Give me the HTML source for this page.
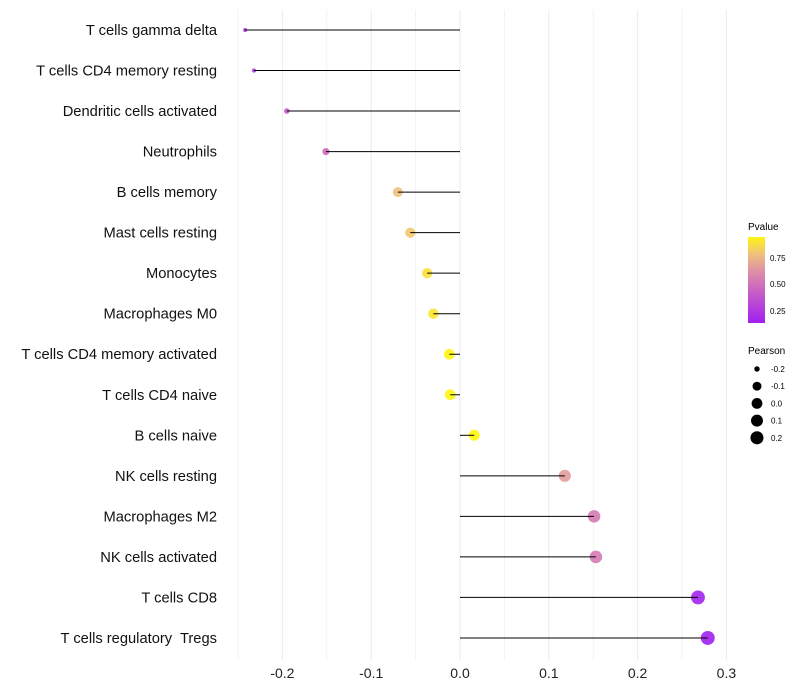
<!DOCTYPE html>
<html><head><meta charset="utf-8"><style>
body{margin:0;background:#fff;font-family:"Liberation Sans",sans-serif}
</style></head><body>
<svg id="c" width="800" height="700" style="position:absolute;left:0;top:0">
<defs><linearGradient id="pg" x1="0" y1="1" x2="0" y2="0">
<stop offset="0" stop-color="#A020F0"/><stop offset="0.35" stop-color="#C75CC8"/><stop offset="0.6" stop-color="#DE8FA6"/><stop offset="0.8" stop-color="#F0C07E"/><stop offset="1" stop-color="#FFF510"/></linearGradient></defs>
<g id="grid"></g><g id="pts"></g><g id="marks"></g><g id="labels"></g>
<text x="748" y="230" font-size="10">Pvalue</text>
<rect x="748" y="237" width="17" height="86" fill="url(#pg)"/>
<g font-size="8">
<text x="770" y="261">0.75</text>
<text x="770" y="287">0.50</text>
<text x="770" y="314">0.25</text>
</g>
<text x="748" y="354" font-size="10">Pearson</text>
<g id="sizeleg" font-size="8"></g>
</svg>
<script>
const categories=["T cells gamma delta","T cells CD4 memory resting","Dendritic cells activated","Neutrophils","B cells memory","Mast cells resting","Monocytes","Macrophages M0","T cells CD4 memory activated","T cells CD4 naive","B cells naive","NK cells resting","Macrophages M2","NK cells activated","T cells CD8","T cells regulatory  Tregs"];
const pearson=[-0.242,-0.232,-0.195,-0.151,-0.070,-0.056,-0.037,-0.030,-0.012,-0.011,0.016,0.118,0.151,0.153,0.268,0.279];
const pvalue=[0.2,0.22,0.33,0.4,0.75,0.78,0.87,0.89,0.95,0.95,0.95,0.58,0.45,0.45,0.15,0.14];
const xTicks=[-0.2,-0.1,0.0,0.1,0.2,0.3];
const xTickLabels=["-0.2","-0.1","0.0","0.1","0.2","0.3"];
const sizeLegend=[-0.2,-0.1,0.0,0.1,0.2];
const NS="http://www.w3.org/2000/svg";
const x=v=>460+v*888;
const y=i=>30+i*40.53;
const r=v=>v<-0.07?Math.max(1.5,5+(v+0.07)*17.6):5+(v+0.07)*5.7;
const stops=[[0.14,[160,32,240]],[0.35,[200,92,200]],[0.52,[222,143,166]],[0.75,[240,192,126]],[0.95,[255,245,16]]];
function col(p){if(p<=stops[0][0])return`rgb(${stops[0][1]})`;for(let k=1;k<stops.length;k++){if(p<=stops[k][0]){const a=stops[k-1],b=stops[k],t=(p-a[0])/(b[0]-a[0]);return`rgb(${a[1].map((c,j)=>Math.round(c+(b[1][j]-c)*t))})`;}}return`rgb(${stops[stops.length-1][1]})`;}
function mk(t,a,p){const e=document.createElementNS(NS,t);for(const k in a)e.setAttribute(k,a[k]);p.appendChild(e);return e;}
const G=document.getElementById('grid'),M=document.getElementById('marks'),P=document.getElementById('pts'),L=document.getElementById('labels');
for(let v=-0.25;v<=0.301;v+=0.05){const g=mk('line',{x1:x(v),x2:x(v),y1:10,y2:660,stroke:'#ebebeb','stroke-width':Math.abs(Math.round(v*100)%10)===5?0.6:1},G);

}
xTicks.forEach((v,i)=>{const t=mk('text',{x:x(v),y:678,'text-anchor':'middle','font-size':14,fill:'#222'},L);t.textContent=xTickLabels[i];

});
categories.forEach((c,i)=>{
const t=mk('text',{x:217,y:y(i)+5,'text-anchor':'end','font-size':14.7,fill:'#111',style:'white-space:pre'},L);t.textContent=c;


const d=mk('circle',{cx:x(pearson[i]),cy:y(i),r:r(pearson[i]),fill:col(pvalue[i]),'fill-opacity':0.9},P);


const ln=mk('line',{x1:x(0),x2:x(pearson[i]),y1:y(i),y2:y(i),stroke:'#000','stroke-width':1},M);


});
const S=document.getElementById('sizeleg');
sizeLegend.forEach((v,i)=>{const cy=369+i*17.2;
const c=mk('circle',{cx:757,cy:cy,r:r(v),fill:'#000'},S);


const t=mk('text',{x:771,y:cy+3},S);t.textContent=v.toFixed(1);

});
</script>
</body></html>
